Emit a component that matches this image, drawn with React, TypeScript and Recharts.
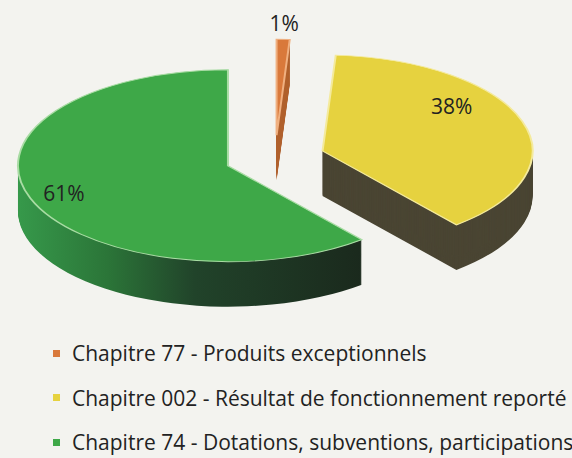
import React from "react";
import { PieChart, Pie, Cell } from "recharts";

// ---- data ----
const categories = [
  "Chapitre 77 - Produits exceptionnels",
  "Chapitre 002 - Résultat de fonctionnement reporté",
  "Chapitre 74 - Dotations, subventions, participations",
];
const values = [1, 38, 61];

// ---- styles ----
const topColors = ["#d9793b", "#e6d23f", "#3ea848"];
const sideFills = ["#b0602e", "#4a4533", "url(#greenSide)"];
const edgeColors = ["#f0b080", "#f4ea9c", "#a9dca4"];
const legendColors = ["#d9793b", "#e6d23f", "#3ea848"];
// label placement: [radius fraction, angle shift in degrees]
const labelPlace: [number, number][] = [
  [1.17, 0],
  [0.77, 19],
  [0.83, 0],
];

const W = 572;
const S = 0.457; // vertical squash of the pie plane
const RX = 210;
const CX = 275;
const CY = 158 / S;
const EXPLODE = 50;
const DEPTH = 45; // screen px
const CHART_H = 330 / S;
const START = 90;
const END = -270;

const total = values.reduce((a, b) => a + b, 0);
const mids: number[] = [];
{
  let acc = 0;
  for (const v of values) {
    const a0 = START - (acc / total) * 360;
    const a1 = START - ((acc + v) / total) * 360;
    mids.push((a0 + a1) / 2);
    acc += v;
  }
}
const rad = (d: number) => (d * Math.PI) / 180;
const offsets = mids.map((m) => ({
  dx: EXPLODE * Math.cos(rad(m)),
  dy: -EXPLODE * Math.sin(rad(m)),
}));

const pieData = categories.map((name, i) => ({ name, value: values[i] }));

const drawOrder = [0, 1, 2];

function makeLabel(slice: number) {
  return (props: any) => {
    if (props.index !== slice) return null;
    const [f, shift] = labelPlace[slice];
    const a = rad(props.midAngle + shift);
    const x = props.cx + props.outerRadius * f * Math.cos(a);
    const y = props.cy - props.outerRadius * f * Math.sin(a);
    return (
      <text
        key={`lbl-${slice}`}
        x={0}
        y={0}
        transform={`translate(${x},${y}) scale(1,${1 / S})`}
        textAnchor="middle"
        dominantBaseline="central"
        fontFamily="Open Sans, sans-serif"
        fontSize={21}
        fill="#222"
      >
        {`${values[slice]}%`}
      </text>
    );
  };
}

export default function App() {
  const pies: React.ReactNode[] = [];
  drawOrder.forEach((slice) => {
    const cx = CX + offsets[slice].dx;
    const cy = CY + offsets[slice].dy;
    for (let k = DEPTH; k >= 1; k--) {
      pies.push(
        <Pie
          key={`side-${slice}-${k}`}
          data={pieData}
          dataKey="value"
          cx={cx}
          cy={cy + k / S}
          outerRadius={RX}
          startAngle={START}
          endAngle={END}
          stroke="none"
          isAnimationActive={false}
        >
          {pieData.map((_, i) => (
            <Cell key={i} fill={i === slice ? sideFills[slice] : "none"} stroke="none" />
          ))}
        </Pie>
      );
    }
    pies.push(
      <Pie
        key={`top-${slice}`}
        data={pieData}
        dataKey="value"
        cx={cx}
        cy={cy}
        outerRadius={RX}
        startAngle={START}
        endAngle={END}
        isAnimationActive={false}
        labelLine={false}
        label={makeLabel(slice)}
      >
        {pieData.map((_, i) => (
          <Cell
            key={i}
            fill={i === slice ? topColors[slice] : "none"}
            stroke={i === slice ? edgeColors[slice] : "none"}
            strokeWidth={i === slice ? 2 : 0}
          />
        ))}
      </Pie>
    );
  });

  return (
    <div
      style={{
        position: "absolute",
        left: 0,
        top: 0,
        width: W,
        height: 458,
        background: "#f3f3ef",
        overflow: "hidden",
      }}
    >
      <div
        style={{
          position: "absolute",
          left: 0,
          top: 0,
          transform: `scaleY(${S})`,
          transformOrigin: "0 0",
        }}
      >
        <PieChart width={W} height={CHART_H} margin={{ top: 0, right: 0, bottom: 0, left: 0 }}>
          <defs>
            <linearGradient id="greenSide" gradientUnits="userSpaceOnUse" x1={20} y1={0} x2={370} y2={0}>
              <stop offset="0" stopColor="#36984a" />
              <stop offset="0.25" stopColor="#2b7538" />
              <stop offset="0.5" stopColor="#21432a" />
              <stop offset="1" stopColor="#1a281c" />
            </linearGradient>
          </defs>
          {pies}
        </PieChart>
      </div>
      <div
        style={{
          position: "absolute",
          left: 53,
          top: 331,
          fontFamily: "Open Sans, sans-serif",
          fontSize: 21,
          color: "#222",
        }}
      >
        {categories.map((c, i) => (
          <div
            key={c}
            style={{ height: 44.5, display: "flex", alignItems: "center", whiteSpace: "nowrap" }}
          >
            <span
              style={{
                display: "inline-block",
                width: 7,
                height: 7,
                background: legendColors[i],
                marginRight: 12,
              }}
            />
            {c}
          </div>
        ))}
      </div>
    </div>
  );
}
